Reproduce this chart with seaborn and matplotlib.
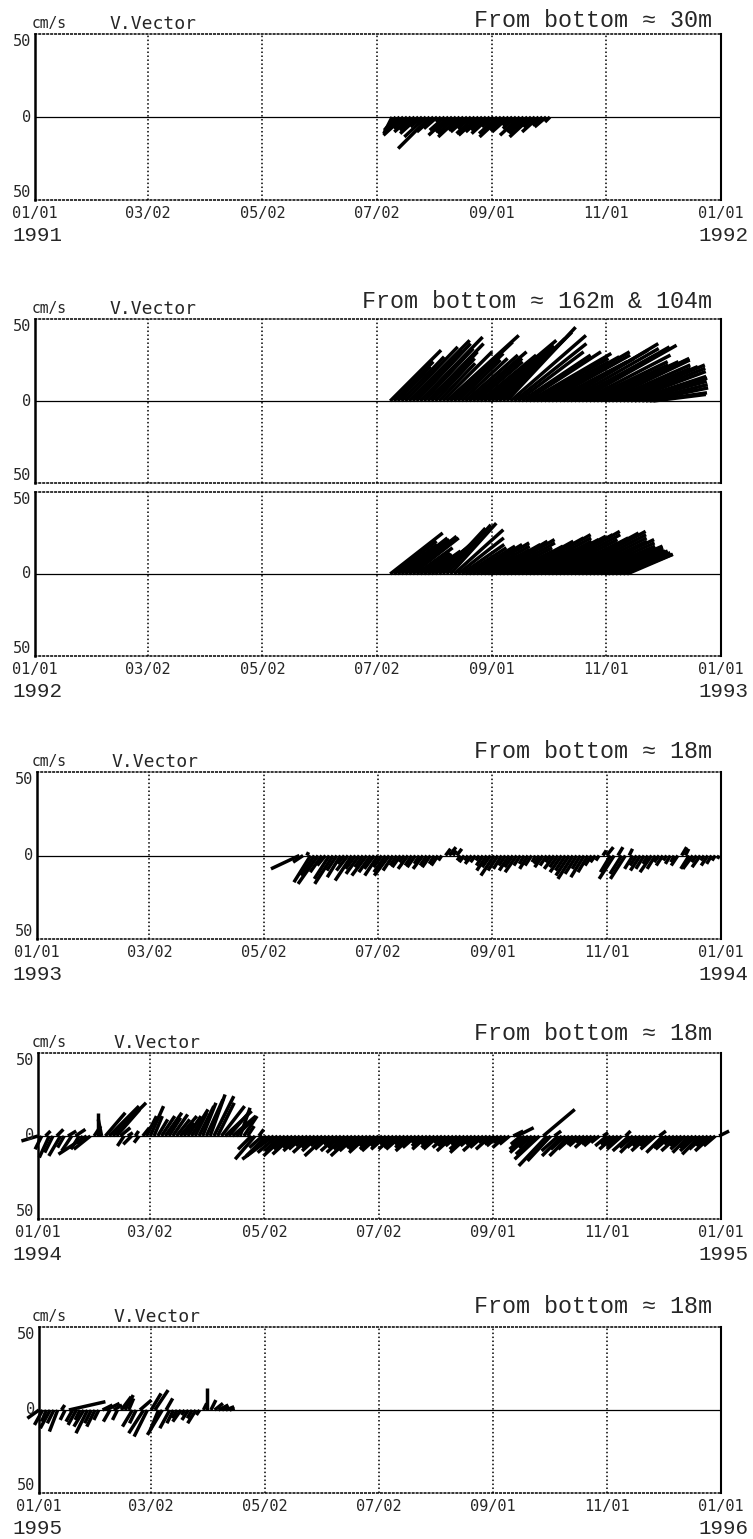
import numpy as np
import pandas as pd
import matplotlib

matplotlib.use("Agg")
import matplotlib.pyplot as plt
import seaborn as sns

W_PX, H_PX = 753, 1539

# ── current vectors (cm/s), one every 2 days, first value at day `start_*` ──
# 1991, ~30 m above bottom
start_1991 = 190
u_1991 = [-5, -7, -9, -12, -8, -10, -9, -11, -7, -13, -19, -10, -8, -3, -9, -12, -10, -11, -13, -9,
          -10, -8, -11, -12, -10, -9, -11, -7, -11, -13, -9, -10, -6, -8, -12, -10, -11, -13, -7, -10,
          -6, -7, -3]
v_1991 = [-10, -8, -9, -11, -7, -9, -8, -10, -6, -12, -19, -9, -7, -3, -8, -11, -9, -10, -12, -8,
          -9, -7, -10, -11, -9, -8, -10, -6, -10, -12, -8, -9, -5, -7, -11, -9, -10, -12, -6, -9,
          -5, -6, -3]

# 1992, ~162 m above bottom
start_1992a = 189
u_1992a = [31, 24, 20, 26, 32, 37, 30, 33, 38, 30, 34, 28, 24, 22, 30, 44, 38, 30, 26, 28,
           32, 35, 30, 28, 34, 44, 40, 34, 36, 40, 42, 42, 46, 44, 40, 42, 46, 50, 46, 44,
           48, 52, 50, 46, 48, 54, 58, 56, 52, 58, 60, 54, 50, 48, 52, 55, 54, 52, 50, 48,
           50, 52, 50, 48, 46, 44, 42, 40, 38, 35, 32]
v_1992a = [31, 24, 21, 27, 33, 37, 31, 35, 39, 32, 35, 30, 26, 23, 30, 40, 36, 29, 25, 26,
           28, 30, 26, 24, 28, 37, 34, 30, 33, 38, 42, 45, 40, 35, 30, 28, 30, 29, 26, 24,
           27, 30, 28, 24, 26, 31, 35, 32, 28, 33, 34, 28, 24, 22, 24, 25, 26, 25, 22, 20,
           21, 22, 20, 18, 15, 12, 14, 10, 8, 5, 4]

# 1992, ~104 m above bottom
start_1992b = 189
u_1992b = [32, 26, 24, 28, 27, 29, 28, 22, 18, 17, 20, 22, 24, 26, 26, 27, 28, 30, 28, 26,
           25, 28, 30, 32, 30, 28, 32, 34, 36, 34, 30, 28, 32, 36, 40, 42, 40, 38, 40, 42,
           44, 46, 44, 40, 38, 42, 46, 48, 46, 44, 42, 44, 42, 40, 38, 40, 38, 36, 35, 34,
           32, 31, 30, 28]
v_1992b = [25, 20, 18, 22, 21, 23, 22, 16, 13, 12, 14, 16, 20, 24, 28, 30, 31, 27, 22, 18,
           16, 17, 18, 19, 17, 15, 18, 20, 21, 19, 16, 14, 17, 20, 22, 24, 22, 20, 21, 23,
           24, 26, 24, 21, 19, 22, 25, 26, 24, 22, 20, 21, 19, 17, 16, 17, 16, 15, 14, 14,
           13, 13, 12, 12]

# 1993, ~18 m above bottom
start_1993 = 140
u_1993 = [-17, -6, 1, -10, -8, -12, -7, -5, -9, -11, -6, -8, -4, -7, -10, -6, -8, -5, -9, -7,
          -6, -8, -5, -7, -9, -6, -4, -5, -3, -6, -4, -5, -3, -6, -4, -5, -3, -4, -2, 3,
          4, 2, 3, -2, -3, -2, -4, -3, -2, -4, -6, -5, -8, -6, -5, -4, -6, -5, -7, -4,
          -3, -5, -4, -2, -3, -5, -4, -3, -6, -5, -7, -6, -8, -9, -7, -5, -8, -6, -4, -3,
          -2, 2, 4, -6, -9, 3, -7, -9, 2, -5, -4, -6, -5, -3, -7, -5, -3, -4, -2, -3,
          -2, -4, 3, 2, -5, -6, -3, -5, -2, -4, -3, -2, -1]
v_1993 = [-8, -4, 2, -16, -12, -17, -10, -6, -14, -17, -9, -13, -5, -9, -15, -8, -11, -7, -12, -10,
          -8, -12, -7, -10, -12, -9, -6, -7, -4, -8, -6, -7, -5, -8, -6, -7, -5, -6, -3, 4,
          5, 3, 4, -3, -4, -3, -5, -4, -3, -6, -9, -7, -12, -9, -8, -6, -9, -7, -10, -6,
          -5, -8, -6, -4, -5, -7, -6, -4, -8, -7, -10, -9, -12, -14, -11, -8, -13, -10, -6, -4,
          -3, 3, 5, -10, -14, 5, -11, -14, 4, -8, -6, -9, -8, -5, -10, -8, -4, -6, -3, -5,
          -4, -6, 5, 4, -8, -8, -4, -7, -3, -6, -5, -3, -2]

# 1994, ~18 m above bottom
start_1994 = 0
u_1994 = [-10, -4, 3, -6, -5, 4, -7, -4, 5, -6, 6, -5, -3, -17, -10, 4, 0, -2, 12, 18,
          20, 14, 6, -4, 3, -5, 2, -3, 4, 6, 8, 5, 6, 8, 10, 7, 9, 8, 10, 6,
          8, 10, 7, 9, 8, 10, 9, 12, 10, 14, 16, 12, 14, 10, 6, 8, 4, -8, -12, 3,
          -8, -12, -14, -19, -12, -10, -13, -9, -12, -8, -10, -9, -7, -11, -8, -10, -7, -13, -9, -6,
          -10, -8, -11, -9, -13, -10, -8, -9, -11, -7, -9, -10, -7, -9, -6, -9, -8, -9, -6, -8,
          -10, -8, -5, -7, -9, -6, -8, -9, -5, -8, -7, -10, -7, -6, -9, -11, -7, -6, -10, -8,
          -5, -9, -6, -7, -5, -8, -6, 6, 10, -6, -9, -11, -8, -12, -15, 19, -17, -14, 4, -10,
          -12, -9, -12, -9, -6, -7, -5, -8, -6, -7, -5, 3, -7, -6, -9, -7, -9, 3, -10, -8,
          -10, -8, -7, -10, -7, -9, 4, -10, -8, -9, -6, -10, -7, -9, -10, -8, -10, -11, -9, -7,
          -10, -7, 6]
v_1994 = [-3, -8, 3, -13, -10, 4, -12, -7, 3, -9, 4, -8, -5, -11, -8, 6, 14, 10, 14, 18,
          20, 16, 5, -6, 2, -5, 3, -4, 5, 12, 18, 12, 10, 12, 14, 11, 13, 10, 12, 8,
          12, 16, 14, 18, 20, 22, 25, 24, 20, 18, 15, 14, 12, 10, 17, 12, 6, -8, -14, 4,
          -7, -12, -12, -14, -10, -9, -12, -8, -11, -7, -9, -8, -6, -10, -7, -9, -6, -12, -8, -5,
          -9, -7, -10, -8, -12, -9, -7, -8, -10, -6, -8, -9, -6, -8, -5, -8, -7, -8, -5, -7,
          -9, -7, -4, -6, -8, -5, -7, -8, -4, -7, -6, -9, -6, -5, -8, -10, -6, -5, -9, -7,
          -4, -8, -5, -6, -4, -7, -5, 3, 5, -5, -8, -10, -7, -11, -14, 16, -18, -15, 3, -9,
          -12, -8, -12, -8, -5, -6, -4, -7, -5, -6, -4, 2, -6, -5, -8, -6, -8, 3, -9, -7,
          -10, -7, -6, -9, -6, -8, 3, -10, -7, -8, -5, -9, -6, -8, -10, -7, -9, -11, -8, -6,
          -9, -6, 3]

# 1995, ~18 m above bottom
start_1995 = 0
u_1995 = [-7, -5, -3, -6, -4, -5, 2, -3, 22, -4, -5, -3, -6, -7, -4, -5, -3, 6, 8, -4,
          5, -3, 6, 5, 3, -6, -4, 7, -9, -8, 6, 8, -5, -9, 4, -6, -4, -3, -5, -2,
          -4, -3, -5, -2, 2, 0, 3, 5, 6, 4, 5, 3]
v_1995 = [-5, -9, -7, -11, -8, -13, 3, -6, 5, -7, -9, -6, -10, -14, -8, -10, -6, 3, 4, -7,
          3, -6, 8, 9, 7, -10, -8, 6, -14, -16, 10, 12, -12, -15, 7, -11, -8, -5, -7, -3,
          -6, -5, -8, -3, 4, 13, 6, 4, 3, 2, 2, 1]

tick_days = [0, 60, 121, 182, 243, 304, 365]
tick_labels = ["01/01", "03/02", "05/02", "07/02", "09/01", "11/01", "01/01"]

PIX = ["DejaVu Sans Mono"]
SERIF_MONO = ["Liberation Mono", "DejaVu Sans Mono"]
DOT = (0, (1, 1.6))
RIGHT = 721

sns.set_style("white")
fig = plt.figure(figsize=(W_PX / 100, H_PX / 100), dpi=100)


def fx(x):
    return x / W_PX


def fy(y):
    return 1 - y / H_PX


def make_axes(left, top, bottom, xlabels=True):
    ax = fig.add_axes([fx(left), fy(bottom), (RIGHT - left) / W_PX, (bottom - top) / H_PX])
    ax.set_facecolor("white")
    for side in ["top", "bottom"]:
        ax.spines[side].set_linestyle(DOT)
        ax.spines[side].set_linewidth(1.1)
        ax.spines[side].set_color("black")
    ax.spines["left"].set_linewidth(1.8)
    ax.spines["right"].set_linewidth(1.5)
    for side in ["left", "right"]:
        ax.spines[side].set_color("black")
    ax.axhline(0, color="black", lw=0.9, zorder=1)
    for d in tick_days[1:-1]:
        ax.axvline(d, color="black", lw=1.1, ls=DOT, zorder=1)

    # y labels without minus sign, top one hangs under the frame
    tr = ax.get_yaxis_transform()
    off = -4 / (RIGHT - left)
    ax.text(off, 50, "50", transform=tr, ha="right", va="top", family=PIX, fontsize=11)
    ax.text(off, 0, "0", transform=tr, ha="right", va="center", family=PIX, fontsize=11)
    ax.text(off, -50, "50", transform=tr, ha="right", va="bottom", family=PIX, fontsize=11)
    ax.set_yticks([])
    if xlabels:
        ax.set_xticks(tick_days, tick_labels)
        for lab in ax.get_xticklabels():
            lab.set_family(PIX)
            lab.set_fontsize(11)
    else:
        ax.set_xticks([])
    ax.tick_params(length=0, pad=4)
    return ax, RIGHT - left, bottom - top


def draw_sticks(ax, w_px, h_px, start, u, v):
    # same pixel length per cm/s on both axes
    k = (h_px / 100) / (w_px / 365)
    days = start + 2 * np.arange(len(u))
    n = len(u)
    df = pd.DataFrame({
        "stick": np.repeat(np.arange(n), 2),
        "x": np.column_stack([days, days + np.array(u) * k]).ravel(),
        "y": np.column_stack([np.zeros(n), np.array(v)]).ravel(),
    })
    before = len(ax.lines)
    sns.lineplot(data=df, x="x", y="y", units="stick", estimator=None, sort=False,
                 color="black", lw=2.5, ax=ax, legend=False)
    for ln in ax.lines[before:]:
        ln.set_solid_capstyle("butt")
        ln.set_clip_on(False)
        ln.set_zorder(2)
    ax.set_xlim(0, 365)
    ax.set_ylim(-50, 50)
    ax.set_xlabel("")
    ax.set_ylabel("")


def header(top, left, label, lab_dy):
    fig.text(fx(32), fy(top - 6), "cm/s", family=PIX, fontsize=10.5, va="baseline")
    fig.text(fx(left + 75), fy(top - 5), "V.Vector", family=PIX, fontsize=13, va="baseline")
    fig.text(fx(712), fy(top - lab_dy), label, family=SERIF_MONO, fontsize=16.8,
             ha="right", va="baseline")


def years(bottom, y0, y1):
    fig.text(fx(12), fy(bottom + 41), y0, family=SERIF_MONO, fontsize=15, va="baseline")
    fig.text(fx(748), fy(bottom + 41), y1, family=SERIF_MONO, fontsize=15, ha="right",
             va="baseline")


# panel 1: 1991
ax, w, h = make_axes(35, 34, 200)
draw_sticks(ax, w, h, start_1991, u_1991, v_1991)
header(34, 35, "From bottom \u2248 30m", 7)
years(200, "1991", "1992")

# panel 2: 1992, two depths
ax, w, h = make_axes(35, 319, 483, xlabels=False)
draw_sticks(ax, w, h, start_1992a, u_1992a, v_1992a)
ax, w, h = make_axes(35, 492, 656)
draw_sticks(ax, w, h, start_1992b, u_1992b, v_1992b)
header(319, 35, "From bottom \u2248 162m & 104m", 11)
years(656, "1992", "1993")

# panel 3: 1993
ax, w, h = make_axes(37, 772, 939)
draw_sticks(ax, w, h, start_1993, u_1993, v_1993)
header(772, 37, "From bottom \u2248 18m", 14)
years(939, "1993", "1994")

# panel 4: 1994
ax, w, h = make_axes(38, 1053, 1219)
draw_sticks(ax, w, h, start_1994, u_1994, v_1994)
header(1053, 38, "From bottom \u2248 18m", 13)
years(1219, "1994", "1995")

# panel 5: 1995
ax, w, h = make_axes(39, 1327, 1493)
draw_sticks(ax, w, h, start_1995, u_1995, v_1995)
header(1327, 39, "From bottom \u2248 18m", 14)
years(1493, "1995", "1996")

fig.savefig("out.png", dpi=100, facecolor="white")
plt.close(fig)
